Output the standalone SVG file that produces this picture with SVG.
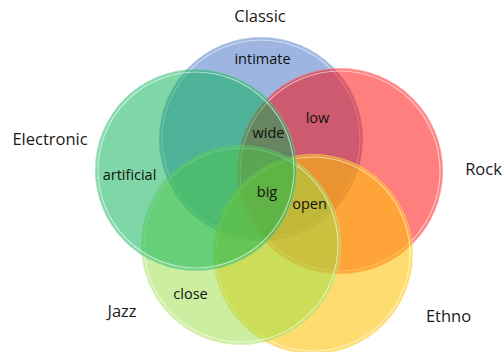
<svg xmlns="http://www.w3.org/2000/svg" width="504" height="352" viewBox="0 0 504 352">
<style>
.ring{fill:none;stroke:#ffffff;stroke-width:1.2;stroke-opacity:0.55}
.edge{fill:none;stroke:#ffffff;stroke-width:0.8;stroke-opacity:0.35}
.outer{font-family:"Open Sans","Noto Sans",sans-serif;font-size:16.5px;fill:#1a1a1a;text-anchor:middle}
.inner{font-family:"Open Sans","Noto Sans",sans-serif;font-size:14.5px;fill:#111111;text-anchor:middle}
</style>
<rect width="504" height="352" fill="#ffffff"/>
<g id="classic">
<circle cx="261" cy="139" r="102" fill="#4472C4" fill-opacity="0.52"/>
<circle class="edge" cx="261" cy="139" r="101.5"/>
<circle class="ring" cx="261" cy="139" r="99"/>
<text class="outer" x="260" y="22">Classic</text>
</g>
<g id="rock">
<circle cx="340" cy="171" r="103" fill="#FF0000" fill-opacity="0.5"/>
<circle class="edge" cx="340" cy="171" r="102.5"/>
<circle class="ring" cx="340" cy="171" r="100"/>
<text class="outer" x="483.5" y="175">Rock</text>
</g>
<g id="ethno">
<circle cx="313" cy="254" r="100" fill="#FFC000" fill-opacity="0.56"/>
<circle class="edge" cx="313" cy="254" r="99.5"/>
<circle class="ring" cx="313" cy="254" r="97"/>
<text class="outer" x="448.5" y="322">Ethno</text>
</g>
<g id="jazz">
<circle cx="241" cy="245" r="100" fill="#99DD44" fill-opacity="0.5"/>
<circle class="edge" cx="241" cy="245" r="99.5"/>
<circle class="ring" cx="241" cy="245" r="97"/>
<text class="outer" x="122" y="317">Jazz</text>
</g>
<g id="electronic">
<circle cx="196" cy="170" r="101" fill="#00B050" fill-opacity="0.5"/>
<circle class="edge" cx="196" cy="170" r="100.5"/>
<circle class="ring" cx="196" cy="170" r="98"/>
<text class="outer" x="50" y="145">Electronic</text>
</g>
<g id="connectors"></g>
<g id="region-labels">
<text class="inner" x="262.5" y="64">intimate</text>
<text class="inner" x="317.5" y="123">low</text>
<text class="inner" x="268.5" y="138">wide</text>
<text class="inner" x="129.5" y="180">artificial</text>
<text class="inner" x="267" y="197">big</text>
<text class="inner" x="309.5" y="209">open</text>
<text class="inner" x="190.5" y="299">close</text>
</g>
</svg>
